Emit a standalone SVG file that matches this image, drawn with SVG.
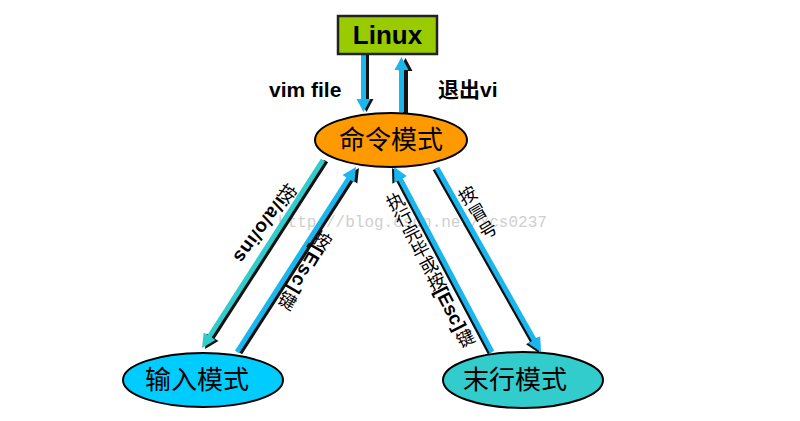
<svg xmlns="http://www.w3.org/2000/svg" xmlns:xlink="http://www.w3.org/1999/xlink" width="800" height="421" viewBox="0 0 800 421">
<style>
.cyan{fill:#1cb6ee}
.teal{fill:#33cccc}
.shadow{fill:#111}
.node{stroke:#000;stroke-width:2}
.big{font-family:"Noto Sans CJK SC","Liberation Sans",sans-serif;font-size:26px;fill:#000;text-anchor:middle}
.lbl{font-family:"Liberation Sans","Noto Sans CJK SC",sans-serif;font-size:21px;font-weight:bold;fill:#000}
.cj{font-family:"Noto Sans CJK SC",sans-serif;font-size:18px;fill:#000;text-anchor:middle;dominant-baseline:central}
.la{font-family:"Liberation Sans",sans-serif;font-size:19px;font-weight:bold;fill:#000;dominant-baseline:central}
.wm{font-family:"Liberation Mono",monospace;font-size:16px;fill:#cfcfcf}
</style>
<defs>
<polygon id="a0" points="361,54 366,54 366,99 370.5,99 363.5,112 356.5,99 361,99"/>
<polygon id="a5" points="399,112 404,112 404,70 408.5,70 401.5,57 394.5,70 399,70"/>
<polygon id="a1" points="325.10,161.35 211.67,337.58 215.46,340.02 202,348 203.68,332.44 207.47,334.88 320.90,158.65"/>
<polygon id="a2" points="234.90,350.65 346.33,177.42 342.54,174.98 356,167 354.32,182.56 350.53,180.12 239.10,353.35"/>
<polygon id="a3" points="489.79,353.17 398.34,180.54 394.36,182.65 394,167 406.74,176.09 402.76,178.20 494.21,350.83"/>
<polygon id="a4" points="439.18,166.77 536.29,338.58 540.21,336.37 541,352 528.01,343.25 531.93,341.04 434.82,169.23"/>
</defs>
<rect width="800" height="421" fill="#fff"/>
<text class="wm" x="278" y="227">http://blog.csdn.net/xcs0237</text>
<g id="connectors">
<use xlink:href="#a0" class="shadow" transform="translate(3,0)"/>
<use xlink:href="#a0" class="cyan"/>
<use xlink:href="#a5" class="shadow" transform="translate(4,1)"/>
<use xlink:href="#a5" class="cyan"/>
<use xlink:href="#a1" class="shadow" transform="translate(3,1)"/>
<use xlink:href="#a1" class="teal"/>
<use xlink:href="#a2" class="shadow" transform="translate(3,1)"/>
<use xlink:href="#a2" class="cyan"/>
<use xlink:href="#a3" class="shadow" transform="translate(-2,1)"/>
<use xlink:href="#a3" class="cyan"/>
<use xlink:href="#a4" class="shadow" transform="translate(-2,1)"/>
<use xlink:href="#a4" class="cyan"/>
<text class="lbl" x="269" y="97">vim file</text>
<text class="lbl" x="438" y="97">退出vi</text>
<g id="label-ins">
<text class="cj" transform="translate(288,192) rotate(36)">按</text>
<text class="la" transform="translate(282.7,199.3) rotate(126)" textLength="76" lengthAdjust="spacing">i/a/o/ins</text>
</g>
<g id="label-esc1">
<text class="cj" transform="translate(323,239) rotate(30)">按</text>
<text class="la" transform="translate(318.5,246.8) rotate(120)" textLength="52" lengthAdjust="spacing">[Esc]</text>
<text class="cj" transform="translate(288,299.6) rotate(30)">键</text>
</g>
<g id="label-esc2">
<text class="cj" transform="translate(395,200) rotate(-27)">执</text>
<text class="cj" transform="translate(403.2,216) rotate(-27)">行</text>
<text class="cj" transform="translate(411.4,232) rotate(-27)">完</text>
<text class="cj" transform="translate(419.6,248.1) rotate(-27)">毕</text>
<text class="cj" transform="translate(427.8,264.1) rotate(-27)">或</text>
<text class="cj" transform="translate(436,280.1) rotate(-27)">按</text>
<text class="la" transform="translate(440.1,288.1) rotate(63)" textLength="46" lengthAdjust="spacing">[Esc]</text>
<text class="cj" transform="translate(465,337) rotate(-27)">键</text>
</g>
<g id="label-colon">
<text class="cj" transform="translate(467,194) rotate(-30.5)">按</text>
<text class="cj" transform="translate(477.2,211.2) rotate(-30.5)">冒</text>
<text class="cj" transform="translate(487.3,228.5) rotate(-30.5)">号</text>
</g>
</g>
<g id="linux">
<rect x="338" y="16" width="99" height="38" fill="#99cc00" stroke="#222" stroke-width="2.5"/>
<text x="387.5" y="44" font-family="Liberation Sans,sans-serif" font-size="26" font-weight="bold" text-anchor="middle">Linux</text>
</g>
<g id="cmd">
<ellipse class="node" cx="391" cy="140" rx="76" ry="27" fill="#ff9900"/>
<text class="big" x="391" y="149">命令模式</text>
</g>
<g id="input">
<ellipse class="node" cx="203" cy="380" rx="80" ry="27" fill="#00ccff"/>
<text class="big" x="197" y="389">输入模式</text>
</g>
<g id="lastline">
<ellipse class="node" cx="523" cy="380" rx="80" ry="28" fill="#33cccc"/>
<text class="big" x="515" y="389">末行模式</text>
</g>
</svg>
